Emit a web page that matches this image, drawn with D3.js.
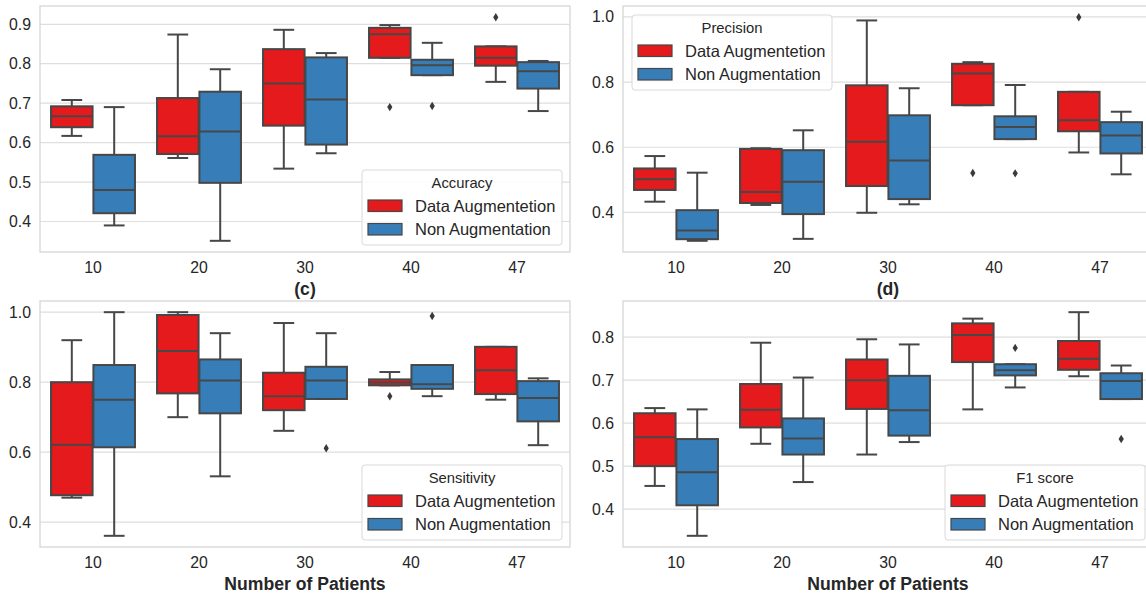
<!DOCTYPE html>
<html>
<head>
<meta charset="utf-8">
<script src="https://cdn.jsdelivr.net/npm/d3@7"></script>
<style>
  body { margin: 0; background: #fff; }
  text { font-family: "Liberation Sans", Arial, sans-serif; fill: #262626; }
</style>
</head>
<body>
<div id="chart"></div>
<script>
// Categories and series
const categories = ["10", "20", "30", "40", "47"]
const series = ["Data Augmentetion", "Non Augmentation"]
const colors = ["#e41a1c", "#377eb8"]

// Box stats per category: [whisker low, q1, median, q3, whisker high]
const accuracyAug = [[0.617, 0.639, 0.667, 0.692, 0.708], [0.561, 0.571, 0.616, 0.713, 0.874], [0.534, 0.643, 0.750, 0.837, 0.886], [0.815, 0.815, 0.875, 0.891, 0.898], [0.754, 0.795, 0.815, 0.844, 0.844]]
const accuracyAugOut = [[], [], [], [0.690], [0.918]]
const accuracyNon = [[0.390, 0.421, 0.480, 0.569, 0.690], [0.351, 0.498, 0.628, 0.729, 0.786], [0.573, 0.595, 0.709, 0.816, 0.827], [0.771, 0.771, 0.796, 0.810, 0.853], [0.680, 0.737, 0.781, 0.804, 0.807]]
const accuracyNonOut = [[], [], [], [0.693], []]

const precisionAug = [[0.433, 0.469, 0.502, 0.535, 0.573], [0.423, 0.429, 0.463, 0.595, 0.597], [0.399, 0.481, 0.617, 0.790, 0.989], [0.729, 0.729, 0.826, 0.856, 0.861], [0.584, 0.649, 0.683, 0.770, 0.770]]
const precisionAugOut = [[], [], [], [0.521], [0.999]]
const precisionNon = [[0.313, 0.318, 0.345, 0.407, 0.522], [0.319, 0.395, 0.494, 0.591, 0.652], [0.425, 0.441, 0.559, 0.698, 0.781], [0.625, 0.625, 0.662, 0.695, 0.791], [0.517, 0.581, 0.636, 0.677, 0.709]]
const precisionNonOut = [[], [], [], [0.520], []]

const sensitivityAug = [[0.470, 0.477, 0.621, 0.800, 0.920], [0.700, 0.768, 0.889, 0.992, 1.0], [0.661, 0.720, 0.760, 0.827, 0.969], [0.791, 0.791, 0.799, 0.808, 0.829], [0.750, 0.766, 0.834, 0.901, 0.901]]
const sensitivityAugOut = [[], [], [], [0.760], []]
const sensitivityNon = [[0.361, 0.614, 0.750, 0.849, 1.0], [0.531, 0.711, 0.805, 0.865, 0.940], [0.752, 0.752, 0.805, 0.844, 0.940], [0.760, 0.781, 0.794, 0.849, 0.849], [0.620, 0.688, 0.755, 0.803, 0.811]]
const sensitivityNonOut = [[], [], [0.611], [0.989], []]

const f1Aug = [[0.454, 0.500, 0.567, 0.623, 0.635], [0.552, 0.590, 0.631, 0.691, 0.787], [0.527, 0.633, 0.700, 0.748, 0.795], [0.632, 0.742, 0.805, 0.832, 0.843], [0.709, 0.724, 0.750, 0.791, 0.858]]
const f1AugOut = [[], [], [], [], []]
const f1Non = [[0.338, 0.409, 0.486, 0.563, 0.632], [0.463, 0.527, 0.564, 0.611, 0.706], [0.556, 0.571, 0.630, 0.710, 0.783], [0.683, 0.711, 0.723, 0.737, 0.737], [0.656, 0.656, 0.698, 0.716, 0.734]]
const f1NonOut = [[], [], [], [0.775], [0.563]]

// Tick labels per panel
const ticksAccuracy = [0.4, 0.5, 0.6, 0.7, 0.8, 0.9]
const ticksPrecision = [0.4, 0.6, 0.8, 1.0]
const ticksSensitivity = [0.4, 0.6, 0.8, 1.0]
const ticksF1 = [0.4, 0.5, 0.6, 0.7, 0.8]

const width = 1146
const height = 595
const edge = "#474747"

const svg = d3.select("#chart").append("svg").attr("width", width).attr("height", height)

const panels = [
  { title: "Accuracy", xlabel: "(c)", box: [40, 570, 6, 252], legend: "lr", ticks: ticksAccuracy, fmt: ".1f",
    stats: [accuracyAug, accuracyNon], outs: [accuracyAugOut, accuracyNonOut] },
  { title: "Precision", xlabel: "(d)", box: [623, 1153, 6, 252], legend: "ul", ticks: ticksPrecision, fmt: ".1f",
    stats: [precisionAug, precisionNon], outs: [precisionAugOut, precisionNonOut] },
  { title: "Sensitivity", xlabel: "Number of Patients", box: [40, 570, 301, 547], legend: "lr", ticks: ticksSensitivity, fmt: ".1f",
    stats: [sensitivityAug, sensitivityNon], outs: [sensitivityAugOut, sensitivityNonOut] },
  { title: "F1 score", xlabel: "Number of Patients", box: [623, 1153, 301, 547], legend: "lr", ticks: ticksF1, fmt: ".1f",
    stats: [f1Aug, f1Non], outs: [f1AugOut, f1NonOut] },
]

panels.forEach((p) => drawPanel(p))

function drawPanel(p) {
  const [x0, x1, y0, y1] = p.box
  const g = svg.append("g")

  // y domain from data with 5% margin, like matplotlib autoscale
  const all = []
  p.stats.forEach((s, i) => {
    s.forEach((b) => all.push(b[0], b[4]))
    p.outs[i].forEach((o) => o.forEach((v) => all.push(v)))
  })
  const lo = d3.min(all)
  const hi = d3.max(all)
  const pad = (hi - lo) * 0.05

  const y = d3.scaleLinear().domain([lo - pad, hi + pad]).range([y1, y0])
  const x = d3.scaleBand().domain(categories).range([x0, x1]).padding(0)
  const hue = d3.scaleBand().domain(series).range([0, x.bandwidth() * 0.8])

  // grid
  g.append("g")
    .selectAll("line")
    .data(p.ticks)
    .join("line")
    .attr("x1", x0)
    .attr("x2", x1)
    .attr("y1", (d) => y(d))
    .attr("y2", (d) => y(d))
    .attr("stroke", "#dedede")
    .attr("stroke-width", 1.2)

  // frame
  g.append("rect")
    .attr("x", x0)
    .attr("y", y0)
    .attr("width", x1 - x0)
    .attr("height", y1 - y0)
    .attr("fill", "none")
    .attr("stroke", "#d6d6d6")
    .attr("stroke-width", 1.3)

  // y axis
  const yAxis = d3.axisLeft(y).tickValues(p.ticks).tickFormat(d3.format(p.fmt)).tickSize(0).tickPadding(9)
  const ya = g.append("g").attr("transform", `translate(${x0},0)`).call(yAxis)
  ya.select(".domain").remove()
  ya.selectAll("text").attr("font-size", 15.8).style("font-family", "Liberation Sans, Arial, sans-serif").attr("fill", "#262626")

  // x axis
  const xAxis = d3.axisBottom(x).tickSize(0).tickPadding(10)
  const xa = g.append("g").attr("transform", `translate(0,${y1})`).call(xAxis)
  xa.select(".domain").remove()
  xa.selectAll("text").attr("font-size", 15.8).style("font-family", "Liberation Sans, Arial, sans-serif").attr("fill", "#262626")

  g.append("text")
    .attr("x", (x0 + x1) / 2)
    .attr("y", y1 + 43)
    .attr("text-anchor", "middle")
    .attr("font-size", 17.6)
    .attr("font-weight", "bold")
    .text(p.xlabel)

  // boxes
  series.forEach((s, si) => {
    const bw = hue.bandwidth() * 0.98
    categories.forEach((c, ci) => {
      const [wlo, q1, med, q3, whi] = p.stats[si][ci]
      const cx = x(c) + x.bandwidth() * 0.1 + hue(s) + hue.bandwidth() / 2
      const bg = g.append("g")
      bg.append("line").attr("x1", cx).attr("x2", cx).attr("y1", y(q3)).attr("y2", y(whi))
        .attr("stroke", edge).attr("stroke-width", 2)
      bg.append("line").attr("x1", cx).attr("x2", cx).attr("y1", y(q1)).attr("y2", y(wlo))
        .attr("stroke", edge).attr("stroke-width", 2)
      bg.append("line").attr("x1", cx - bw / 4).attr("x2", cx + bw / 4).attr("y1", y(whi)).attr("y2", y(whi))
        .attr("stroke", edge).attr("stroke-width", 2)
      bg.append("line").attr("x1", cx - bw / 4).attr("x2", cx + bw / 4).attr("y1", y(wlo)).attr("y2", y(wlo))
        .attr("stroke", edge).attr("stroke-width", 2)
      bg.append("rect")
        .attr("x", cx - bw / 2)
        .attr("y", y(q3))
        .attr("width", bw)
        .attr("height", Math.max(0.5, y(q1) - y(q3)))
        .attr("fill", colors[si])
        .attr("stroke", edge)
        .attr("stroke-width", 2)
      bg.append("line").attr("x1", cx - bw / 2).attr("x2", cx + bw / 2).attr("y1", y(med)).attr("y2", y(med))
        .attr("stroke", edge).attr("stroke-width", 2)
      bg.selectAll("path")
        .data(p.outs[si][ci])
        .join("path")
        .attr("d", "M0,-4.2L2.6,0L0,4.2L-2.6,0Z")
        .attr("transform", (v) => `translate(${cx},${y(v)})`)
        .attr("fill", "#3a3a3a")
    })
  })

  // legend
  const lw = 200
  const lh = 75
  const lx = p.legend === "ul" ? x0 + 9 : x1 - lw - 8
  const ly = p.legend === "ul" ? y0 + 9 : y1 - lh - 7
  const lg = g.append("g").attr("transform", `translate(${lx},${ly})`)
  lg.append("rect")
    .attr("width", lw)
    .attr("height", lh)
    .attr("rx", 3)
    .attr("fill", "#fff")
    .attr("fill-opacity", 0.85)
    .attr("stroke", "#d9d9d9")
    .attr("stroke-width", 1)
  lg.append("text")
    .attr("x", lw / 2)
    .attr("y", 18)
    .attr("text-anchor", "middle")
    .attr("font-size", 14.8)
    .text(p.title)
  series.forEach((s, si) => {
    const ry = 30 + si * 23.5
    lg.append("rect")
      .attr("x", 6)
      .attr("y", ry)
      .attr("width", 34)
      .attr("height", 11.5)
      .attr("fill", colors[si])
      .attr("stroke", edge)
      .attr("stroke-width", 1.2)
    lg.append("text")
      .attr("x", 53)
      .attr("y", ry + 11.5)
      .attr("font-size", 16.5)
      .text(s)
  })
}
</script>
</body>
</html>
